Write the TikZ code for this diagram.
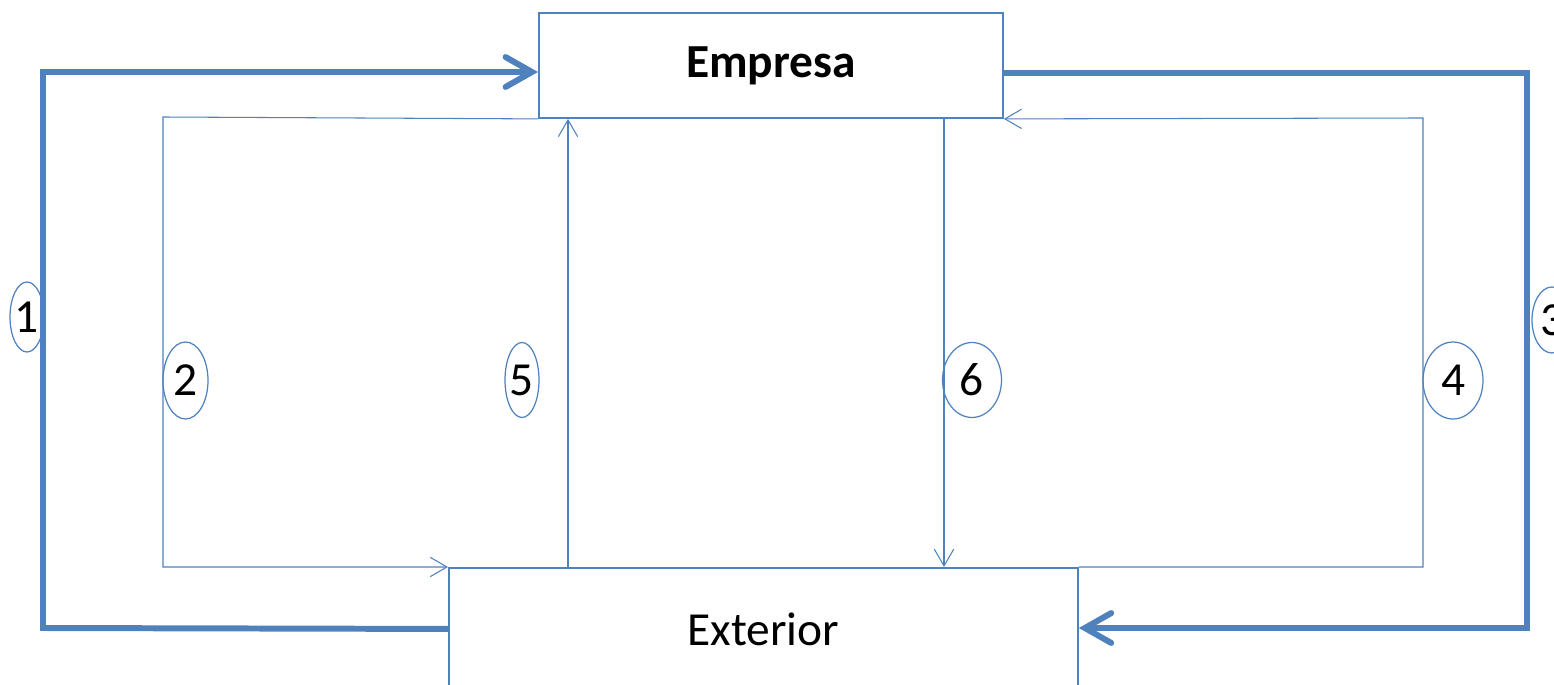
\documentclass[tikz,border=0pt]{standalone}
\usepackage{fontspec}
\setmainfont{Carlito}
\usetikzlibrary{arrows.meta,shapes.geometric}
\definecolor{ob}{HTML}{4F81BD}
\begin{document}
\begin{tikzpicture}[x=0.02cm,y=-0.02cm,
  every node/.style={font=\fontsize{27}{32}\selectfont},
  boxnode/.style={draw=ob,line width=1.1pt,rectangle,anchor=north west,inner sep=0pt},
  thickline/.style={draw=ob,line width=3.4pt},
  thinline/.style={draw=ob,line width=0.6pt},
  bigtip/.style={-{Straight Barb[length=15pt,width=17pt,line cap=round]}},
  smalltip/.style={-{Straight Barb[length=9.5pt,width=11pt]}},
  lab/.style={draw=ob,line width=0.7pt,ellipse,inner sep=0pt,text=black}
]
\useasboundingbox (0,0) rectangle (1554,685);
\clip (0,0) rectangle (1554,685);
% boxes
\node[boxnode,minimum width=9.28cm,minimum height=2.1cm] (emp) at (538,12) {\textbf{Empresa}};
\node[boxnode,minimum width=12.58cm,minimum height=2.44cm] (ext) at (448,567) {};
\node (extlabel) at (ext.center) {Exterior};
% corner coordinates
\coordinate (a1) at (43,628);
\coordinate (a2) at (43,72);
\coordinate (b1) at (1527,73);
\coordinate (b2) at (1527,628);
\coordinate (c1) at (163,117);
\coordinate (c2) at (163,567);
\coordinate (d1) at (1423,567);
\coordinate (d2) at (1423,118);
\coordinate (x5) at (568,0);
\coordinate (x6) at (944,0);
% thick connectors
\draw[thickline,bigtip] (ext.west) -- (a1) -- (a2) -- (emp.west |- a2);
\draw[thickline,bigtip] (emp.east |- b1) -- (b1) -- (b2) -- (ext.east |- b2);
% thin connectors
\draw[thinline,smalltip] (emp.south west) -- (c1) -- (c2) -- (ext.north west);
\draw[thinline,smalltip] (ext.north -| x5) -- (emp.south -| x5);
\draw[thinline,smalltip] (emp.south -| x6) -- (ext.north -| x6);
\draw[thinline,smalltip] (ext.north east) -- (d1) -- (d2) -- (emp.south east);
% labels
\node[lab,minimum width=0.52cm,minimum height=1.4cm] (l1) at (27,317) {1};
\node[lab,minimum width=0.9cm,minimum height=1.54cm] (l2) at (185.5,380.5) {2};
\node[lab,minimum width=0.8cm,minimum height=1.32cm] (l3) at (1552,320) {3};
\node[lab,minimum width=1.2cm,minimum height=1.54cm] (l4) at (1453,380.5) {4};
\node[lab,minimum width=0.52cm,minimum height=1.5cm] (l5) at (522,380) {5};
\node[lab,minimum width=1.18cm,minimum height=1.5cm] (l6) at (972,380) {6};
\end{tikzpicture}
\end{document}
